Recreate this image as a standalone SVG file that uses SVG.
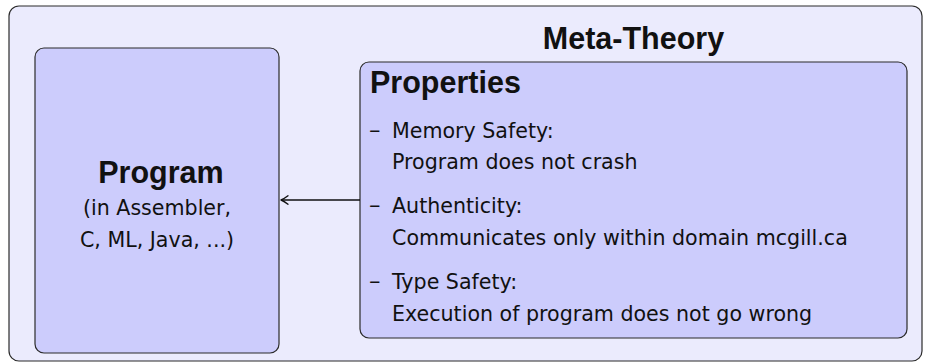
<svg xmlns="http://www.w3.org/2000/svg" width="928" height="362" viewBox="0 0 928 362">
  <style>
    .frame { fill: #EBEBFD; stroke: #2b2b2b; stroke-width: 1.2; }
    .box { fill: #CCCCFC; stroke: #2b2b2b; stroke-width: 1.2; }
    .title { font-family: "Liberation Sans", Arial, sans-serif; font-weight: bold; font-size: 30.5px; fill: #111; }
    .body { font-family: "DejaVu Sans", sans-serif; font-size: 20.6px; fill: #111; }
    .dash { font-family: "DejaVu Sans", sans-serif; font-size: 23px; fill: #111; }
    .edge { fill: none; stroke: #111; stroke-width: 1.5; }
  </style>
  <defs>
    <marker id="tip" viewBox="-8 -5 10 10" refX="0" refY="0" markerWidth="10" markerHeight="10" markerUnits="userSpaceOnUse" orient="auto">
      <path d="M -7 -4.2 Q -2.5 -0.8 0 0 Q -2.5 0.8 -7 4.2" fill="none" stroke="#111" stroke-width="1.4" stroke-linecap="round" stroke-linejoin="round"/>
    </marker>
  </defs>

  <!-- outer frame with heading -->
  <g id="meta-theory">
    <rect class="frame" x="9" y="6" width="913" height="355" rx="10"/>
    <text class="title" x="633.5" y="49.3" text-anchor="middle">Meta-Theory</text>
  </g>

  <!-- program node -->
  <g id="program">
    <rect class="box" x="35" y="48" width="244" height="305" rx="9"/>
    <text class="title" x="161" y="183" text-anchor="middle">Program</text>
    <text class="body" x="157" y="215" text-anchor="middle">(in Assembler,</text>
    <text class="body" x="157" y="247" text-anchor="middle">C, ML, Java, ...)</text>
  </g>

  <!-- properties node -->
  <g id="properties">
    <rect class="box" x="360" y="62" width="547" height="276" rx="9"/>
    <text class="title" x="370" y="93">Properties</text>
    <text class="dash" x="369" y="137.5">–</text>
    <text class="body" x="392" y="137.5">Memory Safety:</text>
    <text class="body" x="392" y="169">Program does not crash</text>
    <text class="dash" x="369" y="213">–</text>
    <text class="body" x="392" y="213">Authenticity:</text>
    <text class="body" x="392" y="245">Communicates only within domain mcgill.ca</text>
    <text class="dash" x="369" y="289">–</text>
    <text class="body" x="392" y="289">Type Safety:</text>
    <text class="body" x="392" y="321">Execution of program does not go wrong</text>
  </g>

  <!-- connectors -->
  <g id="connectors">
    <path class="edge" d="M 360 200 L 281 200" marker-end="url(#tip)"/>
  </g>
</svg>
